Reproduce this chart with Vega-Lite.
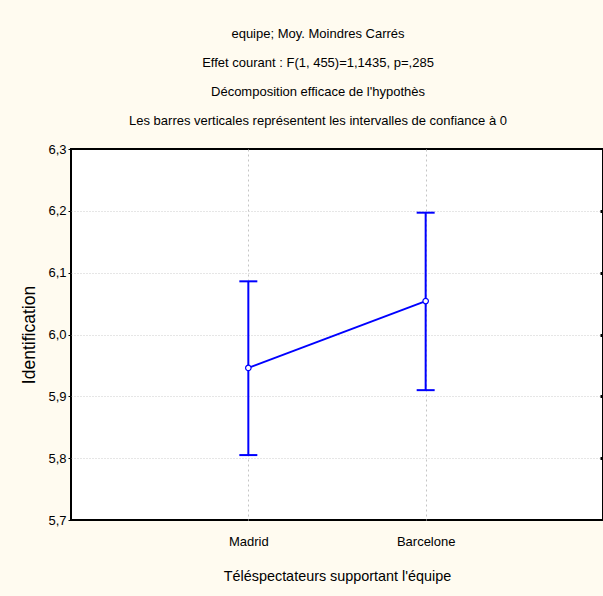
{
  "$schema": "https://vega.github.io/schema/vega-lite/v6.json",
  "autosize": "none",
  "padding": {"left": 71, "top": 149, "right": 0, "bottom": 76},
  "width": 532,
  "height": 371,
  "background": "#FFFBF0",
  "config": {
    "font": "Liberation Sans, Arial",
    "view": {"stroke": "black", "strokeWidth": 2, "fill": "white"}
  },
  "title": {
    "text": ["equipe; Moy. Moindres Carrés", "Effet courant : F(1, 455)=1,1435, p=,285", "Décomposition efficace de l'hypothès", "Les barres verticales représentent les intervalles de confiance à 0"],
    "fontSize": 13,
    "fontWeight": "normal",
    "font": "Liberation Sans, Arial",
    "color": "black",
    "lineHeight": 29,
    "anchor": "middle",
    "dx": -19,
    "offset": 15
  },
  "data": {
    "values": [
      {"team": "Madrid", "mean": 5.946, "lo": 5.805, "hi": 6.086},
      {"team": "Barcelone", "mean": 6.054, "lo": 5.910, "hi": 6.197}
    ]
  },
  "encoding": {
    "x": {
      "field": "team", "type": "ordinal", "sort": ["Madrid", "Barcelone"],
      "scale": {"type": "point", "padding": 1},
      "axis": {
        "title": "Téléspectateurs supportant l'équipe",
        "titleFontSize": 14.4, "titleFontWeight": "normal", "titleColor": "black", "titlePadding": 21,
        "labelFontSize": 13, "labelColor": "black", "labelAngle": 0, "labelPadding": 15,
        "ticks": false, "domain": false,
        "grid": true, "gridColor": "#c4c4c4", "gridDash": [2, 3], "gridWidth": 1
      }
    }
  },
  "layer": [
    {
      "mark": {"type": "rule", "color": "#0000FF", "strokeWidth": 2},
      "encoding": {
        "y": {
          "field": "lo", "type": "quantitative",
          "scale": {"domain": [5.7, 6.3], "nice": false, "zero": false},
          "axis": {
            "title": "Identification", "titleFontSize": 17.5, "titleFontWeight": "normal", "titleColor": "black", "titlePadding": 9,
            "values": [5.7, 5.8, 5.9, 6.0, 6.1, 6.2, 6.3],
            "labelExpr": "replace(format(datum.value, '.1f'), '.', ',')",
            "labelFontSize": 13, "labelColor": "black", "labelPadding": 2,
            "tickSize": 3, "tickColor": "black", "tickWidth": 1,
            "domain": false,
            "grid": false
          }
        },
        "y2": {"field": "hi"}
      }
    },
    {
      "mark": {"type": "tick", "color": "#0000FF", "thickness": 2, "size": 18, "opacity": 1},
      "encoding": {"y": {"field": "lo", "type": "quantitative"}}
    },
    {
      "mark": {"type": "tick", "color": "#0000FF", "thickness": 2, "size": 18, "opacity": 1},
      "encoding": {"y": {"field": "hi", "type": "quantitative"}}
    },
    {
      "mark": {"type": "line", "color": "#0000FF", "strokeWidth": 2},
      "encoding": {"y": {"field": "mean", "type": "quantitative"}}
    },
    {
      "mark": {"type": "point", "shape": "circle", "filled": true, "fill": "white", "stroke": "#0000FF", "strokeWidth": 1.2, "size": 30, "opacity": 1},
      "encoding": {
        "y": {
          "field": "mean", "type": "quantitative",
          "axis": {
            "orient": "right", "title": null, "labels": false, "domain": false,
            "values": [5.8, 5.9, 6.0, 6.1, 6.2],
            "grid": true, "gridColor": "#cccccc", "gridDash": [1, 2], "gridWidth": 1,
            "tickSize": -3, "tickWidth": 3, "tickColor": "black"
          }
        }
      }
    }
  ],
  "resolve": {"axis": {"y": "independent"}}
}
